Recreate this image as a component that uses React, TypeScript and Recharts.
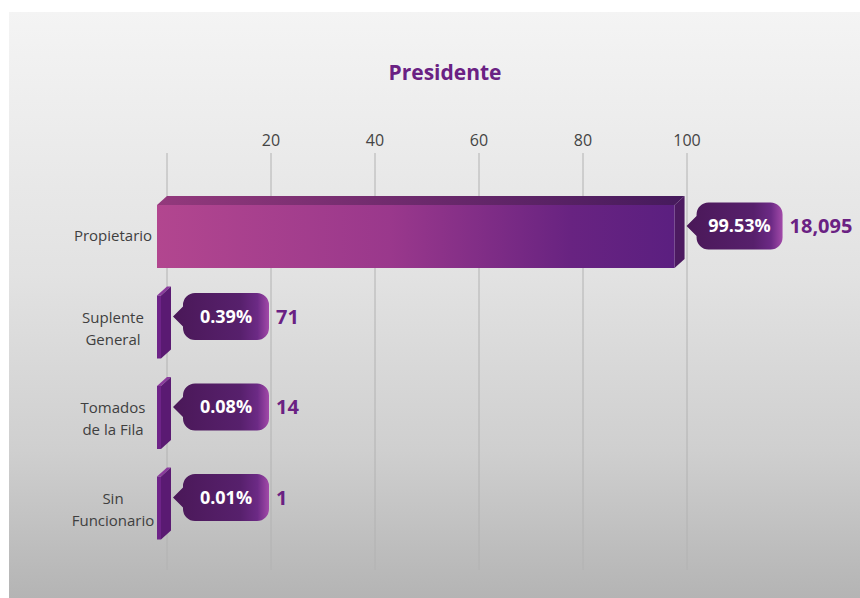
import React from 'react'
import { Bar, BarChart, CartesianGrid, XAxis, YAxis } from 'recharts';

const categories = ["Propietario", "Suplente General", "Tomados de la Fila", "Sin Funcionario"];
const labelLines = [["Propietario"], ["Suplente", "General"], ["Tomados", "de la Fila"], ["Sin", "Funcionario"]];
const percentages = [99.53, 0.39, 0.08, 0.01];
const counts = [18095, 71, 14, 1];
const xTicks = [0, 20, 40, 60, 80, 100];

const data = categories.map((name, i) => ({ name, pct: percentages[i], count: counts[i] }));

const FONT = "'Open Sans', sans-serif";
const PURPLE = "#6a2183";

const TopTick = ({ x, y, payload }: any) => {
    if (payload.value === 0) return null;
    return (
        <text x={x} y={y} dy={1} textAnchor="middle" fontFamily={FONT} fontSize={16} fill="#444">
            {payload.value}
        </text>
    )
}

const CategoryTick = ({ y, payload }: any) => {
    const idx = categories.indexOf(payload.value);
    const lines = labelLines[idx] || [payload.value];
    const first = lines.length === 1 ? y + 9 : y;
    return (
        <text textAnchor="middle" fontFamily={FONT} fontSize={15} fill="#3f3f3f">
            {lines.map((l, i) => (
                <tspan key={i} x={113} y={first + i * 22}>{l}</tspan>
            ))}
        </text>
    )
}

// 3D slab bar plus the callout with the percentage and the count
const SlabBar = (props: any) => {
    const { x, y, width, height, payload } = props;
    const small = width < 20;
    const w = Math.max(width, 4);
    const d = 10, dy = 9;
    const fx = x - d, fy = y + dy, fh = height - dy;

    const top = `${fx},${fy} ${x},${y} ${x + w},${y} ${fx + w},${fy}`;
    const side = `${fx + w},${fy} ${x + w},${y} ${x + w},${y + height - dy} ${fx + w},${fy + fh}`;

    const cy = y + height / 2 - 6;
    const tipX = x + w + 2;
    const rx = tipX + 10, rw = 86, rh = 47, r = 12;
    const rt = cy - rh / 2, rb = cy + rh / 2;
    const callout = [
        `M${rx + r},${rt}`,
        `H${rx + rw - r}`,
        `A${r},${r} 0 0 1 ${rx + rw},${rt + r}`,
        `V${rb - r}`,
        `A${r},${r} 0 0 1 ${rx + rw - r},${rb}`,
        `H${rx + r}`,
        `A${r},${r} 0 0 1 ${rx},${rb - r}`,
        `V${cy + 10}`,
        `L${tipX},${cy}`,
        `L${rx},${cy - 10}`,
        `V${rt + r}`,
        `A${r},${r} 0 0 1 ${rx + r},${rt}`,
        'Z',
    ].join(' ');

    return (
        <g>
            <polygon points={top} fill={small ? "#8a3a9c" : "url(#topGrad)"} />
            <polygon points={side} fill={small ? "#5a1a72" : "#4c1a60"} />
            <rect x={fx} y={fy} width={w} height={fh} fill={small ? "#6e2388" : "url(#frontGrad)"} />
            <path d={callout} fill="url(#calloutGrad)" />
            <text x={rx + rw / 2} y={cy + 6} textAnchor="middle" fontFamily={FONT} fontWeight={700} fontSize={18} fill="#fff">
                {payload.pct.toFixed(2)}%
            </text>
            <text x={rx + rw + 7} y={cy + 7} fontFamily={FONT} fontWeight={700} fontSize={20} fill={PURPLE}>
                {payload.count.toLocaleString('en-US')}
            </text>
        </g>
    )
}

const App: React.FC = () => {
    return (
        <div style={{ position: 'absolute', left: 0, top: 0, width: 860, height: 598, background: '#fff', overflow: 'hidden' }}>
            <div style={{
                position: 'absolute', left: 9, top: 12, right: 0, bottom: 0,
                background: 'linear-gradient(#f4f4f4 0%, #e2e2e2 45%, #cfcfcf 75%, #b4b4b4 100%)'
            }} />
            <div style={{
                position: 'absolute', left: 345, width: 200, top: 58, lineHeight: '28px', textAlign: 'center',
                fontFamily: FONT, fontWeight: 700, fontSize: 21, color: PURPLE
            }}>
                Presidente
            </div>
            <div style={{ position: 'absolute', left: 0, top: 0 }}>
                <BarChart width={860} height={598} data={data} layout="vertical"
                    margin={{ top: 123, right: 173, bottom: 28, left: 0 }}>
                    <defs>
                        <linearGradient id="frontGrad" x1="0" y1="0" x2="1" y2="0">
                            <stop offset="0%" stopColor="#b2468f" />
                            <stop offset="45%" stopColor="#9a388c" />
                            <stop offset="80%" stopColor="#682381" />
                            <stop offset="100%" stopColor="#5b1f80" />
                        </linearGradient>
                        <linearGradient id="topGrad" x1="0" y1="0" x2="1" y2="0">
                            <stop offset="0%" stopColor="#93397c" />
                            <stop offset="100%" stopColor="#451a5c" />
                        </linearGradient>
                        <linearGradient id="calloutGrad" x1="0" y1="0" x2="1" y2="0">
                            <stop offset="0%" stopColor="#4a1858" />
                            <stop offset="70%" stopColor="#57206c" />
                            <stop offset="88%" stopColor="#6c2a85" />
                            <stop offset="100%" stopColor="#a24aa9" />
                        </linearGradient>
                    </defs>
                    <CartesianGrid horizontal={false} stroke="#b2b2b2" />
                    <XAxis type="number" orientation="top" domain={[0, 100]} ticks={xTicks}
                        axisLine={false} tickLine={false} tick={<TopTick />} height={30} />
                    <YAxis type="category" dataKey="name" width={167} axisLine={false} tickLine={false}
                        tick={<CategoryTick />} padding={{ top: 34, bottom: 21 }} />
                    <Bar dataKey="pct" barSize={72} shape={<SlabBar />} isAnimationActive={false} />
                </BarChart>
            </div>
        </div>
    )
}

export default App
